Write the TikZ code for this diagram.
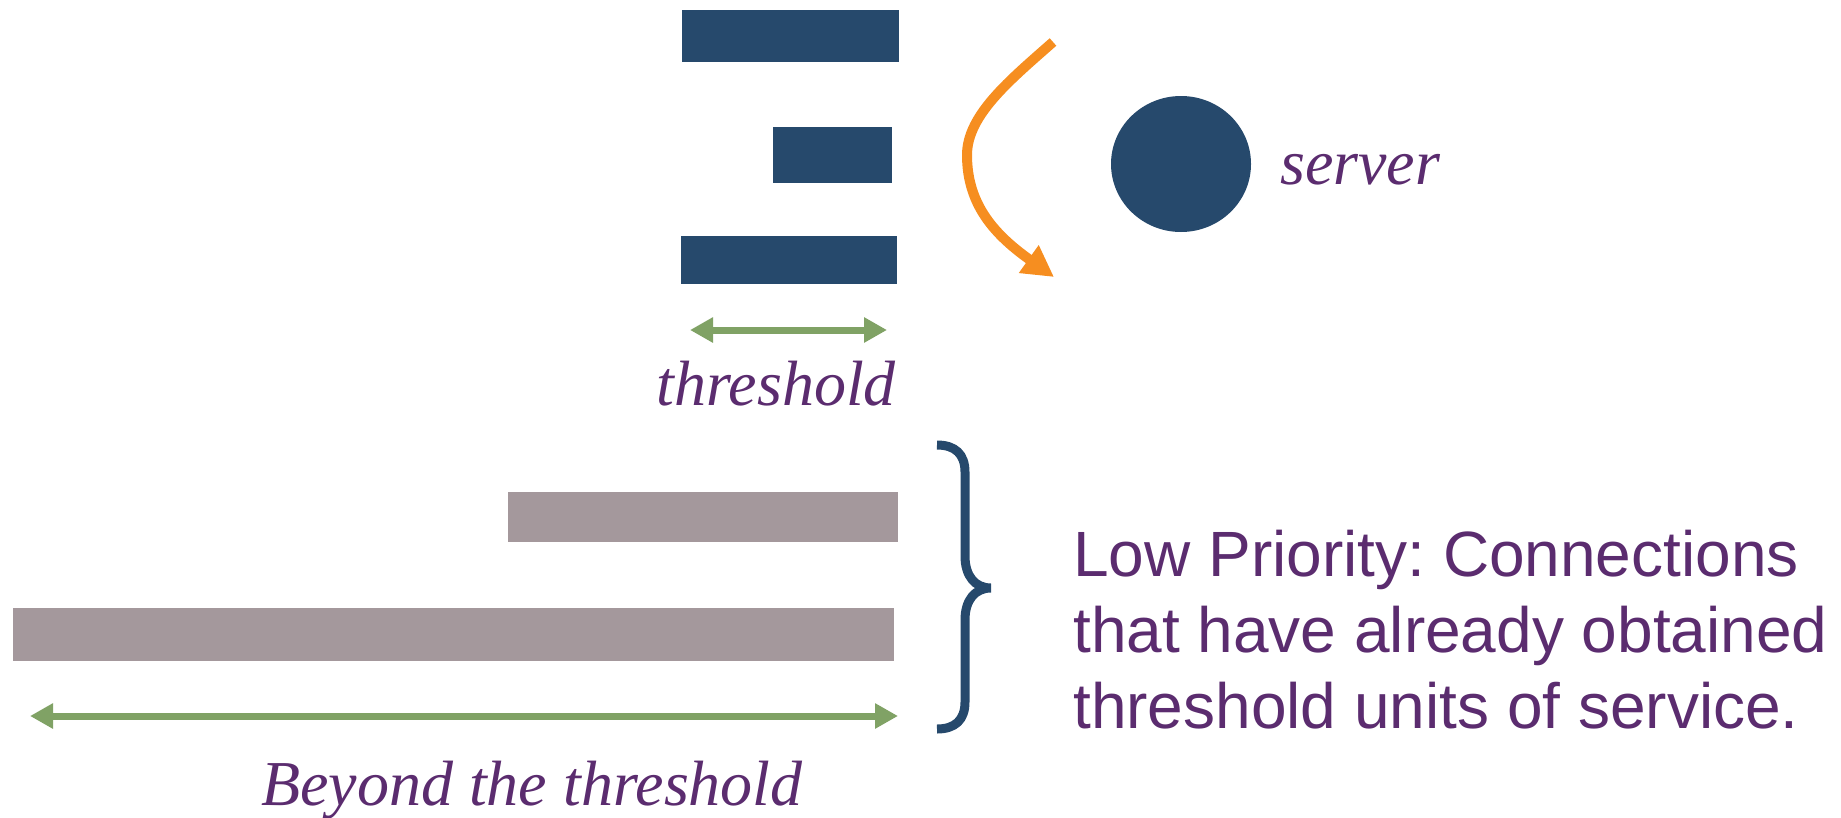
\documentclass[tikz,border=0pt]{standalone}
\usepackage{fontspec}
\setmainfont{Liberation Serif}
\setsansfont{Liberation Sans}
\usetikzlibrary{arrows.meta,shapes.geometric}
\definecolor{navy}{RGB}{38,73,108}
\definecolor{barGray}{RGB}{164,152,156}
\definecolor{arrowGreen}{RGB}{128,162,101}
\definecolor{txtPurple}{RGB}{91,44,111}
\definecolor{flowOrange}{RGB}{246,142,32}
\frenchspacing
\begin{document}
\begin{tikzpicture}[x=1pt,y=-1pt,
  navybar/.style={fill=navy,draw=none,inner sep=0pt,rectangle},
  graybar/.style={fill=barGray,draw=none,inner sep=0pt,rectangle},
  measure/.style={draw=arrowGreen,line width=7pt,
    {Triangle[length=23pt,width=24pt]}-{Triangle[length=23pt,width=24pt]}},
  itlabel/.style={text=txtPurple,inner sep=0pt,font=\fontsize{64}{76}\selectfont\itshape},
  sflabel/.style={text=txtPurple,inner sep=0pt,anchor=base west,font=\fontsize{64}{76}\selectfont\sffamily}]
\useasboundingbox (0,0) rectangle (1841,817);

% queue of high priority connections
\node[navybar,minimum width=217pt,minimum height=52pt] (q1) at (790.5,36) {};
\node[navybar,minimum width=119pt,minimum height=56pt] (q2) at (832.5,155) {};
\node[navybar,minimum width=216pt,minimum height=48pt] (q3) at (789,260) {};

% server
\node[ellipse,fill=navy,draw=none,minimum width=140pt,minimum height=136pt,inner sep=0pt] (srv) at (1181,164) {};
\node[itlabel,anchor=base west] (srvlbl) at (1280,184) {server};

% orange flow arrow
\coordinate (fs) at (1053,42);
\coordinate (fm) at (967,155);
\coordinate (fe) at (1054,277);
\draw[flowOrange,line width=10pt,-{Triangle[length=31pt,width=32pt]}]
  (fs) .. controls (1010,80) and (967,115) .. (fm)
       .. controls (967,205) and (995,235) .. (fe);

% threshold measure
\coordinate (t1) at (690,330);
\coordinate (t2) at (887,330);
\draw[measure] (t1) -- (t2);
\node[itlabel,anchor=base east] (thr) at (896,405) {threshold};

% low priority connections
\node[graybar,minimum width=390pt,minimum height=50pt] (g1) at (703,517) {};
\node[graybar,minimum width=881pt,minimum height=53pt] (g2) at (453.5,634.5) {};

\coordinate (b1) at (30,716);
\coordinate (b2) at (898,716);
\draw[measure] (b1) -- (b2);
\node[itlabel,anchor=base west] (bey) at (261,805) {Beyond the threshold};

% brace
\coordinate (brT) at (937,445);
\coordinate (brM) at (991,588);
\coordinate (brB) at (937,729);
\draw[navy,line width=9pt]
  (brT) .. controls (955,445) and (965,454) .. (965,472) -- (965,556)
  .. controls (965,576) and (975,588) .. (brM)
  .. controls (975,588) and (965,600) .. (965,620) -- (965,702)
  .. controls (965,720) and (955,729) .. (brB);

\node[sflabel] (lp1) at (1073,576) {Low Priority: Connections};
\node[sflabel] (lp2) at (1073,652) {that have already obtained};
\node[sflabel] (lp3) at (1073,728) {threshold units of service.};
\end{tikzpicture}
\end{document}
